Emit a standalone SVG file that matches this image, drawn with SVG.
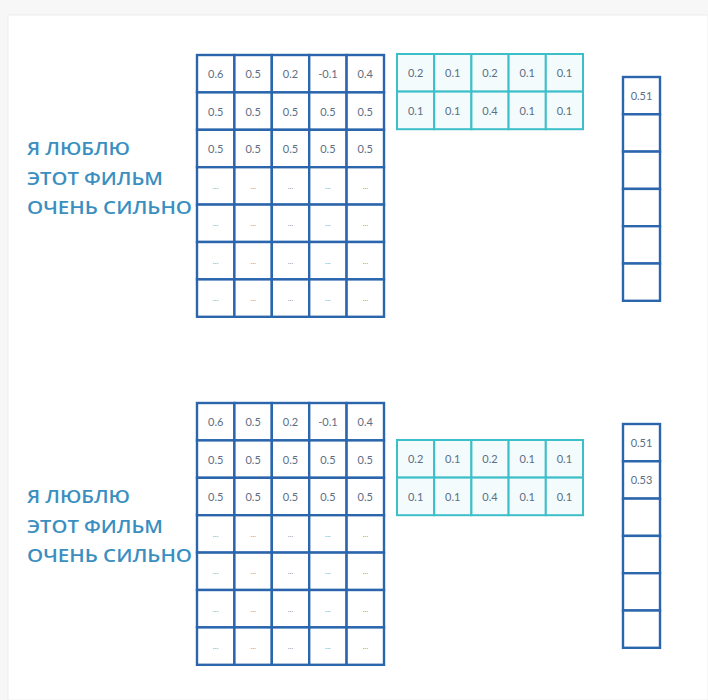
<svg xmlns="http://www.w3.org/2000/svg" width="708" height="700" viewBox="0 0 708 700">
<style>
.m{fill:#ffffff;stroke:#2b66ad;stroke-width:2.4}
.c{fill:#f3fbfc;stroke:#3cbfc9;stroke-width:2}
.v{fill:#ffffff;stroke:#2b66ad;stroke-width:2.4}
.t{font-family:Lato,"Open Sans",sans-serif;font-size:11px;fill:#5b6e86;text-anchor:middle;dominant-baseline:central}
.d{font-family:Lato,"Open Sans",sans-serif;font-size:8px;fill:#8a98a8;text-anchor:middle;dominant-baseline:central}
.l{font-family:"Open Sans",Lato,sans-serif;font-size:18.5px;font-weight:600;fill:#3a8fc0}
</style>
<defs>
<g id="row5">
<rect class="m" x="0" y="0" width="37.4" height="37.4"/>
<rect class="m" x="37.4" y="0" width="37.4" height="37.4"/>
<rect class="m" x="74.8" y="0" width="37.4" height="37.4"/>
<rect class="m" x="112.2" y="0" width="37.4" height="37.4"/>
<rect class="m" x="149.6" y="0" width="37.4" height="37.4"/>
</g>
<g id="dots">
<text class="d" x="18.7" y="18.7">...</text>
<text class="d" x="56.1" y="18.7">...</text>
<text class="d" x="93.5" y="18.7">...</text>
<text class="d" x="130.9" y="18.7">...</text>
<text class="d" x="168.3" y="18.7">...</text>
</g>
<g id="row05">
<text class="t" x="18.7" y="18.7">0.5</text>
<text class="t" x="56.1" y="18.7">0.5</text>
<text class="t" x="93.5" y="18.7">0.5</text>
<text class="t" x="130.9" y="18.7">0.5</text>
<text class="t" x="168.3" y="18.7">0.5</text>
</g>
<g id="crow">
<rect class="c" x="0" y="0" width="37.2" height="37.6"/>
<rect class="c" x="37.2" y="0" width="37.2" height="37.6"/>
<rect class="c" x="74.4" y="0" width="37.2" height="37.6"/>
<rect class="c" x="111.6" y="0" width="37.2" height="37.6"/>
<rect class="c" x="148.8" y="0" width="37.2" height="37.6"/>
</g>
<g id="vcol">
<rect class="v" x="0" y="0" width="37" height="37.3"/>
<rect class="v" x="0" y="37.3" width="37" height="37.3"/>
<rect class="v" x="0" y="74.6" width="37" height="37.3"/>
<rect class="v" x="0" y="111.9" width="37" height="37.3"/>
<rect class="v" x="0" y="149.2" width="37" height="37.3"/>
<rect class="v" x="0" y="186.5" width="37" height="37.3"/>
</g>
</defs>
<rect x="0" y="0" width="708" height="700" fill="#f7f7f7"/>
<rect x="8" y="15" width="700" height="685" fill="#ffffff" stroke="#eeeeee" stroke-width="1"/>

<g id="top-label">
<text class="l" x="27" y="155" textLength="103" lengthAdjust="spacingAndGlyphs">Я ЛЮБЛЮ</text>
<text class="l" x="27" y="185" textLength="136" lengthAdjust="spacingAndGlyphs">ЭТОТ ФИЛЬМ</text>
<text class="l" x="27" y="214" textLength="165" lengthAdjust="spacingAndGlyphs">ОЧЕНЬ СИЛЬНО</text>
</g>

<g id="top-matrix" transform="translate(197,55)">
<use href="#row5" y="0"/><use href="#row5" y="37.4"/><use href="#row5" y="74.8"/><use href="#row5" y="112.2"/><use href="#row5" y="149.6"/><use href="#row5" y="187"/><use href="#row5" y="224.4"/>
<text class="t" x="18.7" y="18.7">0.6</text>
<text class="t" x="56.1" y="18.7">0.5</text>
<text class="t" x="93.5" y="18.7">0.2</text>
<text class="t" x="130.9" y="18.7">-0.1</text>
<text class="t" x="168.3" y="18.7">0.4</text>
<use href="#row05" y="37.4"/><use href="#row05" y="74.8"/>
<use href="#dots" y="112.2"/><use href="#dots" y="149.6"/><use href="#dots" y="187"/><use href="#dots" y="224.4"/>
</g>

<g id="top-filter" transform="translate(397,54)">
<use href="#crow" y="0"/><use href="#crow" y="37.6"/>
<text class="t" x="18.6" y="18.8">0.2</text>
<text class="t" x="55.8" y="18.8">0.1</text>
<text class="t" x="93" y="18.8">0.2</text>
<text class="t" x="130.2" y="18.8">0.1</text>
<text class="t" x="167.4" y="18.8">0.1</text>
<text class="t" x="18.6" y="56.4">0.1</text>
<text class="t" x="55.8" y="56.4">0.1</text>
<text class="t" x="93" y="56.4">0.4</text>
<text class="t" x="130.2" y="56.4">0.1</text>
<text class="t" x="167.4" y="56.4">0.1</text>
</g>

<g id="top-output" transform="translate(623,77)">
<use href="#vcol"/>
<text class="t" x="18.5" y="18">0.51</text>
</g>

<g id="bottom-label">
<text class="l" x="27" y="503" textLength="103" lengthAdjust="spacingAndGlyphs">Я ЛЮБЛЮ</text>
<text class="l" x="27" y="533" textLength="136" lengthAdjust="spacingAndGlyphs">ЭТОТ ФИЛЬМ</text>
<text class="l" x="27" y="562" textLength="165" lengthAdjust="spacingAndGlyphs">ОЧЕНЬ СИЛЬНО</text>
</g>

<g id="bottom-matrix" transform="translate(197,403)">
<use href="#row5" y="0"/><use href="#row5" y="37.4"/><use href="#row5" y="74.8"/><use href="#row5" y="112.2"/><use href="#row5" y="149.6"/><use href="#row5" y="187"/><use href="#row5" y="224.4"/>
<text class="t" x="18.7" y="18.7">0.6</text>
<text class="t" x="56.1" y="18.7">0.5</text>
<text class="t" x="93.5" y="18.7">0.2</text>
<text class="t" x="130.9" y="18.7">-0.1</text>
<text class="t" x="168.3" y="18.7">0.4</text>
<use href="#row05" y="37.4"/><use href="#row05" y="74.8"/>
<use href="#dots" y="112.2"/><use href="#dots" y="149.6"/><use href="#dots" y="187"/><use href="#dots" y="224.4"/>
</g>

<g id="bottom-filter" transform="translate(397,440)">
<use href="#crow" y="0"/><use href="#crow" y="37.6"/>
<text class="t" x="18.6" y="18.8">0.2</text>
<text class="t" x="55.8" y="18.8">0.1</text>
<text class="t" x="93" y="18.8">0.2</text>
<text class="t" x="130.2" y="18.8">0.1</text>
<text class="t" x="167.4" y="18.8">0.1</text>
<text class="t" x="18.6" y="56.4">0.1</text>
<text class="t" x="55.8" y="56.4">0.1</text>
<text class="t" x="93" y="56.4">0.4</text>
<text class="t" x="130.2" y="56.4">0.1</text>
<text class="t" x="167.4" y="56.4">0.1</text>
</g>

<g id="bottom-output" transform="translate(623,424)">
<use href="#vcol"/>
<text class="t" x="18.5" y="18.5">0.51</text>
<text class="t" x="18.5" y="55.8">0.53</text>
</g>

<g id="connectors"></g>
</svg>
